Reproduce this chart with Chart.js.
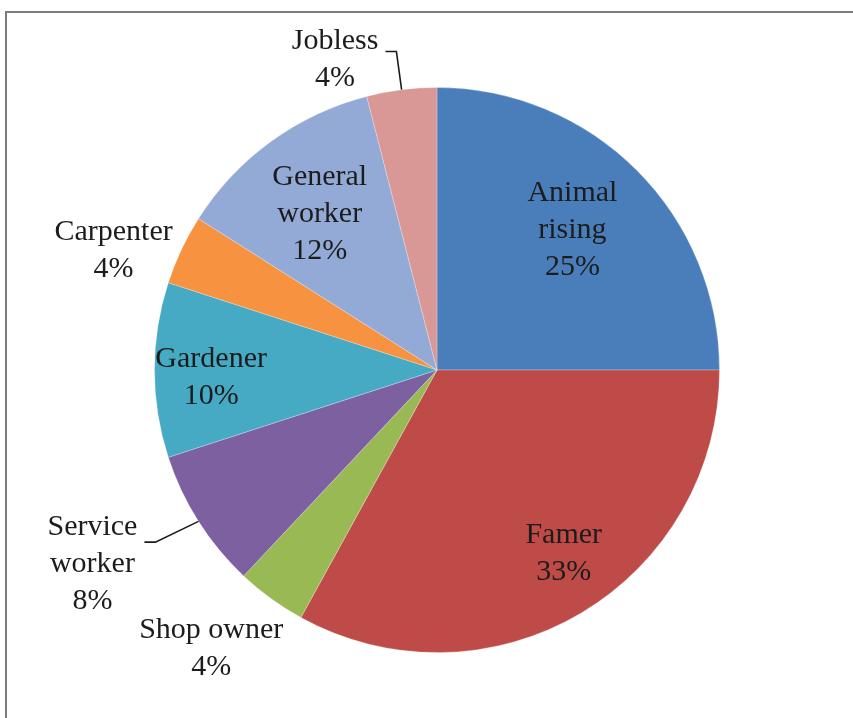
<!DOCTYPE html>
<html>
<head>
<meta charset="utf-8">
<title>Occupation</title>
<script src="https://cdn.jsdelivr.net/npm/chart.js@4.4.1/dist/chart.umd.min.js"></script>
<style>
	html, body { margin: 0; padding: 0; background: #fff; }
	#wrap { position: relative; width: 853px; height: 718px; }
	#frame {
		position: absolute; left: 5px; top: 11px; right: 0; bottom: 0;
		border-top: 2px solid #7c7c7c; border-left: 2px solid #7c7c7c;
	}
	canvas { position: absolute; left: 0; top: 0; }
</style>
</head>
<body>
<div id="wrap">
	<div id="frame"></div>
	<canvas id="occChart" width="853" height="718"></canvas>
</div>
<script>
const categories = ["Animal rising", "Famer", "Shop owner", "Service worker", "Gardener", "Carpenter", "General worker", "Jobless"];
const shares = [25, 33, 4, 8, 10, 4, 12, 4];
const labelLines = [["Animal", "rising"], ["Famer"], ["Shop owner"], ["Service", "worker"], ["Gardener"], ["Carpenter"], ["General", "worker"], ["Jobless"]];
const sliceColors = ["#4a7ebb", "#be4b48", "#98b954", "#7d60a0", "#46aac5", "#f69240", "#93aad6", "#d99795"];

// where each label sits: [fraction of radius along the slice middle, angle nudge in degrees]
const labelSpots = [[0.69, -1], [0.79, -4], [1.27, 3], [1.40, 3], [0.80, -2], [1.22, -5], [0.69, -1], [1.155, -11]];
// outside labels joined to their slice by a short line: [slice index, drop below first line]
const leaders = [[3, 15], [7, 10]];

const lineGap = 37;
const labelFont = "30px 'Liberation Serif', 'Times New Roman', serif";

const pieLabels = {
	id: "pieLabels",
	afterDatasetsDraw(chart) {
		const ctx = chart.ctx;
		const arcs = chart.getDatasetMeta(0).data;
		ctx.save();
		ctx.font = labelFont;
		ctx.fillStyle = "#1c1c1c";
		ctx.strokeStyle = "#1c1c1c";
		ctx.lineWidth = 1.6;
		ctx.textAlign = "center";
		ctx.textBaseline = "middle";
		arcs.forEach((arc, i) => {
			const p = arc.getProps(["x", "y", "startAngle", "endAngle", "outerRadius"], true);
			const mid = (p.startAngle + p.endAngle) / 2;
			const a = mid + labelSpots[i][1] * Math.PI / 180;
			const r = p.outerRadius * labelSpots[i][0];
			const cx = p.x + Math.cos(a) * r;
			const cy = p.y + Math.sin(a) * r;
			const lines = labelLines[i].concat([shares[i] + "%"]);
			const firstY = cy - (lines.length - 1) * lineGap / 2;
			lines.forEach((t, k) => ctx.fillText(t, cx, firstY + k * lineGap));

			const lead = leaders.find(l => l[0] === i);
			if (lead) {
				const right = cx + ctx.measureText(lines[0]).width / 2;
				const ly = firstY + lead[1];
				const ex = p.x + Math.cos(mid) * p.outerRadius;
				const ey = p.y + Math.sin(mid) * p.outerRadius;
				ctx.beginPath();
				ctx.moveTo(right + 7, ly);
				ctx.lineTo(right + 18, ly);
				ctx.lineTo(ex, ey);
				ctx.stroke();
			}
		});
		ctx.restore();
	}
};

const ctx1 = document.getElementById("occChart").getContext("2d");

const occChart = new Chart(ctx1, {
	type: "pie",
	data: {
		labels: categories,
		datasets: [{
			data: shares,
			backgroundColor: sliceColors,
			borderColor: "rgba(255, 255, 255, 0.25)",
			borderWidth: 1,
		}, ],
	},
	options: {
		responsive: false,
		animation: false,
		layout: {
			padding: { left: 154, right: 133, top: 87, bottom: 65 },
		},
		plugins: {
			legend: { display: false },
			tooltip: { enabled: false },
		},
	},
	plugins: [pieLabels],
});
</script>
</body>
</html>
